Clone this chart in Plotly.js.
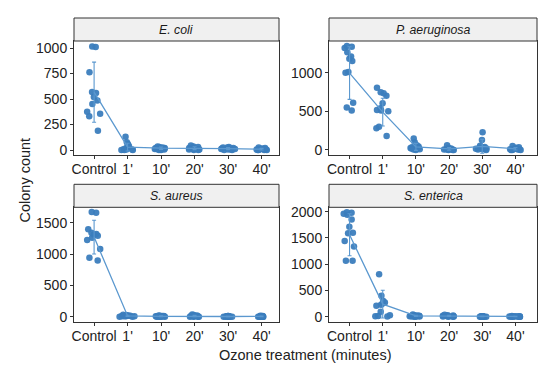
<!DOCTYPE html>
<html>
<head>
<meta charset="utf-8">
<script src="https://cdn.plot.ly/plotly-3.0.1.min.js"></script>
<style>html,body{margin:0;padding:0;background:#fff;}#chart{width:550px;height:365px;}</style>
</head>
<body>
<div id="chart"></div>
<script>
// ---------- data ----------
const categories = ["Control", "1'", "10'", "20'", "30'", "40'"];
const speciesNames = ["E. coli", "P. aeruginosa", "S. aureus", "S. enterica"];

const ecoliCounts = [
  [1015, 1010, 762, 570, 560, 520, 485, 450, 375, 355, 330, 190],
  [130, 75, 60, 40, 30, 20, 10, 5, 5, 0, 0, 0],
  [35, 30, 25, 20, 20, 15, 10, 10, 5, 5, 0, 0],
  [45, 35, 30, 25, 20, 15, 10, 10, 5, 5, 0, 0],
  [30, 25, 25, 20, 15, 15, 10, 10, 5, 5, 0, 0],
  [25, 20, 15, 10, 10, 5, 5, 5, 0, 0, 0, 0]
];
const ecoliMean = [567, 28, 18, 18, 14, 8];
const ecoliSD = [295, 38, 12, 14, 10, 8];

const paeruCounts = [
  [1345, 1335, 1320, 1265, 1210, 1180, 1150, 1010, 1000, 610, 550, 510],
  [806, 746, 733, 703, 604, 539, 517, 510, 500, 302, 280, 181],
  [150, 100, 60, 45, 35, 30, 25, 20, 15, 10, 5, 0],
  [60, 30, 20, 15, 10, 10, 5, 5, 5, 0, 0, 0],
  [229, 129, 56, 40, 30, 25, 20, 15, 10, 10, 5, 0],
  [50, 35, 30, 20, 15, 10, 10, 5, 5, 0, 0, 0]
];
const paeruMean = [995, 490, 40, 15, 47, 15];
const paeruSD = [340, 180, 45, 18, 90, 16];

const saureusCounts = [
  [1670, 1660, 1395, 1340, 1320, 1310, 1290, 1260, 1225, 1080, 940, 895],
  [30, 25, 20, 15, 15, 10, 10, 5, 5, 5, 0, 0],
  [20, 15, 10, 10, 5, 5, 5, 0, 0, 0, 0, 0],
  [35, 25, 20, 15, 10, 5, 5, 5, 0, 0, 0, 0],
  [10, 10, 5, 5, 5, 0, 0, 0, 0, 0, 0, 0],
  [15, 10, 10, 5, 5, 5, 0, 0, 0, 0, 0, 0]
];
const saureusMean = [1270, 12, 6, 10, 3, 4];
const saureusSD = [270, 10, 7, 11, 4, 5];

const sentCounts = [
  [1990, 1980, 1960, 1940, 1850, 1715, 1600, 1590, 1440, 1335, 1065, 1065],
  [807, 400, 300, 270, 250, 230, 210, 95, 30, 15, 10, 5],
  [40, 30, 25, 20, 15, 15, 10, 10, 5, 5, 0, 0],
  [35, 30, 25, 20, 20, 15, 10, 10, 5, 5, 0, 0],
  [10, 10, 5, 5, 5, 5, 0, 0, 0, 0, 0, 0],
  [15, 10, 10, 5, 5, 5, 5, 0, 0, 0, 0, 0]
];
const sentMean = [1560, 240, 15, 15, 4, 5];
const sentSD = [400, 265, 12, 11, 4, 5];

const yTickStep = [250, 500, 500, 500];
const yRanges = [[-49, 1069], [-65, 1410], [-80, 1746], [-95, 2084]];

// ---------- layout geometry (pixels) ----------
const W = 550, H = 365;
const colX = [[74, 279], [329, 537]];
const rowY = [[41, 155], [207.3, 321.7]];
const stripH = 23;
const xRanges = [[-0.6, 5.52], [-0.62, 5.65]];

const ptColor = '#3b7dbd';
const lineColor = '#5b98cf';
const fontFam = '"Liberation Sans", Arial, sans-serif';

const allCounts = [ecoliCounts, paeruCounts, saureusCounts, sentCounts];
const allMean = [ecoliMean, paeruMean, saureusMean, sentMean];
const allSD = [ecoliSD, paeruSD, saureusSD, sentSD];

const traces = [];
const layout = {
  width: W, height: H,
  margin: {l: 0, r: 0, t: 0, b: 0},
  paper_bgcolor: '#fff', plot_bgcolor: '#fff',
  showlegend: false,
  font: {family: fontFam, color: '#222'},
  shapes: [], annotations: []
};

for (let p = 0; p < 4; p++) {
  const col = p % 2, row = Math.floor(p / 2);
  const sfx = p === 0 ? '' : String(p + 1);
  const xa = 'x' + sfx, ya = 'y' + sfx;
  const xs = [], ys = [];
  allCounts[p].forEach((arr, i) => arr.forEach(v => { xs.push(categories[i]); ys.push(v); }));
  traces.push({
    type: 'box', x: xs, y: ys, xaxis: xa, yaxis: ya,
    boxpoints: 'all', jitter: 1, pointpos: 0,
    line: {width: 0, color: 'rgba(0,0,0,0)'}, fillcolor: 'rgba(0,0,0,0)',
    whiskerwidth: 0,
    marker: {color: ptColor, size: 6.5, opacity: 0.95},
    hoverinfo: 'skip'
  });
  traces.push({
    type: 'scatter', mode: 'lines', x: categories, y: allMean[p],
    xaxis: xa, yaxis: ya,
    line: {color: lineColor, width: 1.3},
    error_y: {type: 'data', array: allSD[p], visible: true, width: 2, thickness: 1.1, color: lineColor},
    hoverinfo: 'skip'
  });
  const xd = [colX[col][0] / W, colX[col][1] / W];
  const yd = [1 - rowY[row][1] / H, 1 - rowY[row][0] / H];
  layout['xaxis' + sfx] = {
    domain: xd, type: 'category', categoryorder: 'array', categoryarray: categories,
    range: xRanges[col], autorange: false, anchor: ya,
    showline: true, mirror: true, linecolor: '#333', linewidth: 1,
    showgrid: false, zeroline: false,
    ticks: 'outside', ticklen: 3, tickcolor: '#333', tickwidth: 1,
    ticklabelstandoff: -2,
    tickfont: {size: 14, color: '#222', family: fontFam}
  };
  layout['yaxis' + sfx] = {
    domain: yd, range: yRanges[p], autorange: false, anchor: xa,
    dtick: yTickStep[p], tick0: 0,
    showline: true, mirror: true, linecolor: '#333', linewidth: 1,
    showgrid: false, zeroline: false,
    ticks: 'outside', ticklen: 3, tickcolor: '#333', tickwidth: 1,
    tickfont: {size: 14, color: '#222', family: fontFam}
  };
  // strip
  layout.shapes.push({
    type: 'rect', xref: 'paper', yref: 'paper',
    x0: xd[0], x1: xd[1], y0: yd[1], y1: 1 - (rowY[row][0] - stripH) / H,
    fillcolor: '#f0f0f0', line: {color: '#333', width: 1}
  });
  layout.annotations.push({
    xref: 'paper', yref: 'paper', showarrow: false,
    x: (xd[0] + xd[1]) / 2, y: 1 - (rowY[row][0] - stripH / 2) / H,
    xanchor: 'center', yanchor: 'middle',
    text: '<i>' + speciesNames[p] + '</i>',
    font: {size: 12.3, color: '#1a1a1a', family: fontFam}
  });
}

layout.annotations.push({
  xref: 'paper', yref: 'paper', showarrow: false,
  x: 305 / W, y: 1 - 355 / H, xanchor: 'center', yanchor: 'middle',
  text: 'Ozone treatment (minutes)', font: {size: 14.5, color: '#222', family: fontFam}
});
layout.annotations.push({
  xref: 'paper', yref: 'paper', showarrow: false, textangle: -90,
  x: 24 / W, y: 1 - 180.5 / H, xanchor: 'center', yanchor: 'middle',
  text: 'Colony count', font: {size: 14.5, color: '#222', family: fontFam}
});

Plotly.newPlot('chart', traces, layout, {displayModeBar: false, staticPlot: true});
</script>
</body>
</html>
